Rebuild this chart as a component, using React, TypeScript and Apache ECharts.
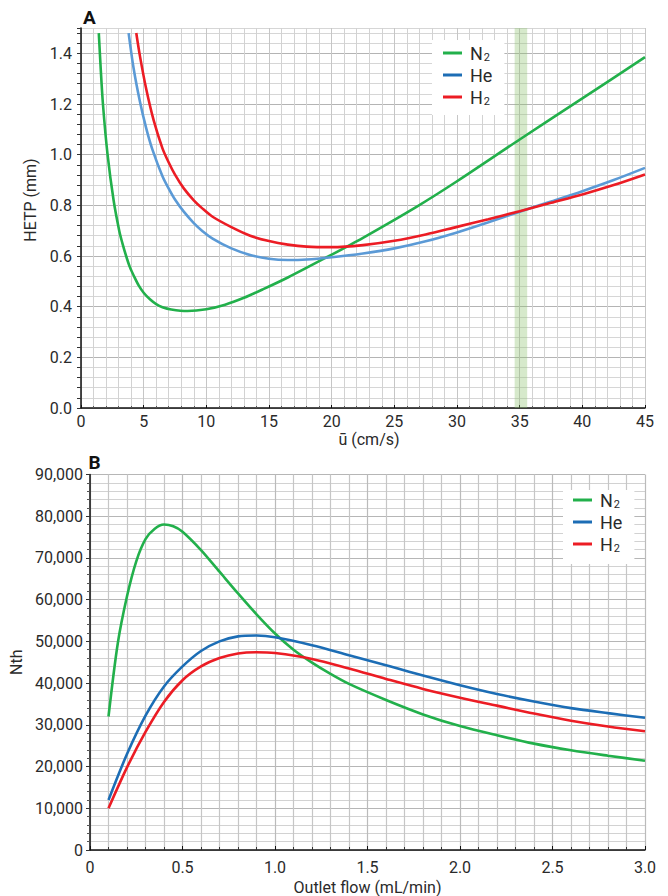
import React, { useEffect, useRef } from "react";
import * as echarts from "echarts";

// ---- Panel A: HETP (mm) against average linear velocity ū (cm/s) ----
const n2Velocity = [1.42, 1.55, 1.75, 2.12, 2.6, 3.05, 3.3, 3.6, 3.9, 4.25, 4.6, 5.0, 5.5, 6.0, 6.5, 7.2, 8.5, 10, 11.5, 13, 14.5, 16.5, 19.6, 22.5, 26.8, 30, 35, 40, 45];
const n2Hetp = [1.48, 1.36, 1.2, 1.0, 0.82, 0.7, 0.651, 0.6, 0.556, 0.518, 0.484, 0.455, 0.429, 0.41, 0.398, 0.389, 0.383, 0.39, 0.408, 0.435, 0.468, 0.515, 0.595, 0.672, 0.795, 0.895, 1.06, 1.222, 1.385];

const heVelocity = [3.8, 4.2, 4.7, 5.2, 5.7, 6.5, 7.0, 7.5, 8.2, 9, 9.7, 10.5, 12, 13.5, 15, 16.5, 18, 20, 22.5, 25, 27.5, 30, 32.5, 35, 37.5, 40, 42.5, 45];
const heHetp = [1.48, 1.34, 1.21, 1.105, 1.02, 0.915, 0.866, 0.823, 0.775, 0.73, 0.698, 0.669, 0.63, 0.604, 0.589, 0.584, 0.586, 0.595, 0.61, 0.63, 0.658, 0.693, 0.733, 0.775, 0.815, 0.856, 0.9, 0.948];

const h2Velocity = [4.41, 4.7, 5.2, 5.8, 6.5, 7.0, 7.5, 8.2, 9, 9.7, 10.5, 12, 13.5, 15, 16.5, 18, 20, 22.5, 25, 27.5, 30, 32.5, 35, 37.5, 40, 42.5, 45];
const h2Hetp = [1.48, 1.39, 1.26, 1.135, 1.025, 0.969, 0.921, 0.867, 0.82, 0.787, 0.755, 0.714, 0.68, 0.659, 0.645, 0.637, 0.635, 0.643, 0.66, 0.685, 0.715, 0.745, 0.777, 0.81, 0.843, 0.88, 0.922];

// shaded velocity window
const bandVelocity = [34.6, 35.6];

// ---- Panel B: plate number Nth against outlet flow (mL/min) ----
const n2Flow = [0.1, 0.15, 0.2, 0.25, 0.3, 0.35, 0.4, 0.45, 0.5, 0.6, 0.7, 0.8, 0.9, 1.0, 1.1, 1.2, 1.3, 1.4, 1.6, 1.8, 2.0, 2.2, 2.4, 2.6, 2.8, 3.0];
const n2Plates = [32000, 49500, 60800, 69200, 74500, 77000, 78000, 77600, 76300, 71900, 66700, 61500, 56500, 51900, 48000, 44900, 42200, 39800, 35950, 32500, 29700, 27500, 25500, 23900, 22600, 21400];

const heFlow = [0.1, 0.2, 0.3, 0.4, 0.5, 0.6, 0.7, 0.8, 0.9, 1.0, 1.2, 1.4, 1.6, 1.8, 2.0, 2.2, 2.4, 2.6, 2.8, 3.0];
const hePlates = [12000, 23000, 32200, 39200, 44000, 47700, 50000, 51200, 51400, 51000, 49100, 46700, 44300, 41800, 39500, 37400, 35600, 34000, 32800, 31700];

const h2Flow = [0.1, 0.2, 0.3, 0.4, 0.5, 0.6, 0.7, 0.8, 0.9, 1.0, 1.2, 1.4, 1.6, 1.8, 2.0, 2.2, 2.4, 2.6, 2.8, 3.0];
const h2Plates = [10000, 19800, 28300, 35500, 40700, 44000, 46000, 47100, 47400, 47200, 45800, 43500, 41000, 38600, 36500, 34600, 32700, 31000, 29600, 28450];

const gasNames = ["N2", "He", "H2"];

const GREEN = "#22b04b";
const BLUE = "#1c6db5";
const LIGHT_BLUE = "#5b9ad6";
const RED = "#ec1c24";
const FONT = "Roboto, 'Liberation Sans', Arial, sans-serif";
const TEXT = "#2a2a2a";

const pairs = (xs: number[], ys: number[]) => xs.map((x, i) => [x, ys[i]]);

const line = (name: string, color: string, data: number[][], axis: number, extra: any = {}) => ({
  type: "line",
  name,
  xAxisIndex: axis,
  yAxisIndex: axis,
  data,
  showSymbol: false,
  smooth: 0.3,
  lineStyle: { color, width: 2.6 },
  itemStyle: { color },
  z: 3,
  ...extra,
});

const legendFor = (left: number, top: number, padding: number[]) => ({
  orient: "vertical",
  left,
  top,
  padding,
  itemGap: 2,
  itemWidth: 19,
  itemHeight: 3,
  icon: "rect",
  backgroundColor: "#ffffff",
  selectedMode: false,
  data: [
    { name: gasNames[0], itemStyle: { color: GREEN } },
    { name: gasNames[1], itemStyle: { color: BLUE } },
    { name: gasNames[2], itemStyle: { color: RED } },
  ],
  formatter: (name: string) =>
    name.endsWith("2") ? `${name.slice(0, -1)}{sub|2}` : name,
  textStyle: {
    fontFamily: FONT,
    fontSize: 18,
    color: TEXT,
    lineHeight: 20,
    padding: [0, 0, 0, 3],
    rich: {
      sub: { fontFamily: FONT, fontSize: 11, color: TEXT, lineHeight: 20, padding: [9, 0, 0, 1] },
    },
  },
});

const isMultiple = (v: number, step: number) => Math.abs(v / step - Math.round(v / step)) < 1e-6;

export default function App() {
  const ref = useRef<HTMLDivElement>(null);

  useEffect(() => {
    if (!ref.current) return;
    const chart = echarts.init(ref.current, undefined, { renderer: "svg" });

    const tickLabel = { fontFamily: FONT, fontSize: 16, color: TEXT };
    const axisName = { fontFamily: FONT, fontSize: 16, color: TEXT };

    chart.setOption({
      animation: false,
      backgroundColor: "#ffffff",
      grid: [
        { left: 81, top: 28, width: 564, height: 380 },
        { left: 84, top: 474.5, width: 561, height: 377.5 },
      ],
      xAxis: [
        {
          gridIndex: 0,
          type: "value",
          min: 0,
          max: 45,
          interval: 5,
          name: "ū (cm/s)",
          nameLocation: "middle",
          nameGap: 23,
          nameTextStyle: { ...axisName, padding: [0, 0, 0, 12] },
          axisLine: { lineStyle: { color: "#111", width: 1.5 } },
          axisTick: { inside: true, length: 3, lineStyle: { color: "#111" } },
          minorTick: { show: true, splitNumber: 5, length: 2, lineStyle: { color: "#555" } },
          axisLabel: { ...tickLabel, margin: 5 },
          splitLine: { show: true, lineStyle: { color: "#c6c6c6", width: 1 } },
          minorSplitLine: { show: true, lineStyle: { color: "#d2d2d2", width: 1 } },
        },
        {
          gridIndex: 1,
          type: "value",
          min: 0,
          max: 3,
          interval: 0.5,
          name: "Outlet flow (mL/min)",
          nameLocation: "middle",
          nameGap: 29,
          nameTextStyle: axisName,
          axisLine: { lineStyle: { color: "#111", width: 1.5 } },
          axisTick: { inside: true, length: 4, lineStyle: { color: "#111" } },
          minorTick: { show: true, splitNumber: 5, length: 3, lineStyle: { color: "#333" } },
          axisLabel: {
            ...tickLabel,
            margin: 9,
            formatter: (v: number) => (v === 0 ? "0" : v.toFixed(1)),
          },
          splitLine: { show: true, lineStyle: { color: "#bbbbbb", width: 1.2 } },
          minorSplitLine: { show: true, lineStyle: { color: "#c6c6c6", width: 1.2 } },
        },
      ],
      yAxis: [
        {
          gridIndex: 0,
          type: "value",
          min: 0,
          max: 1.5,
          interval: 0.04,
          name: "HETP (mm)",
          nameLocation: "middle",
          nameGap: 36,
          nameTextStyle: { ...axisName, padding: [0, 0, 0, 36] },
          axisLine: { show: true, lineStyle: { color: "#111", width: 1.5 } },
          axisTick: { show: true, interval: 0, length: 4, lineStyle: { color: "#333" } },
          axisLabel: {
            ...tickLabel,
            interval: 0,
            margin: 9,
            formatter: (v: number) => (isMultiple(v, 0.2) ? v.toFixed(1) : ""),
          },
          splitLine: {
            show: true,
            interval: 0,
            lineStyle: { color: ["#b4b4b4", "#d6d6d6", "#d6d6d6", "#d6d6d6", "#d6d6d6"], width: 1 },
          },
        },
        {
          gridIndex: 1,
          type: "value",
          min: 0,
          max: 90000,
          interval: 10000,
          name: "Nth",
          nameLocation: "middle",
          nameGap: 58,
          nameTextStyle: axisName,
          axisLine: { show: true, lineStyle: { color: "#111", width: 1.5 } },
          axisTick: { show: true, length: 4, lineStyle: { color: "#333" } },
          minorTick: { show: true, splitNumber: 5, length: 3, lineStyle: { color: "#555" } },
          axisLabel: {
            ...tickLabel,
            margin: 7,
            formatter: (v: number) => (v === 0 ? "0" : v.toLocaleString("en-US")),
          },
          splitLine: { show: true, lineStyle: { color: "#b6b6b6", width: 1.2 } },
          minorSplitLine: { show: true, lineStyle: { color: "#d2d2d2", width: 1.2 } },
        },
      ],
      legend: [legendFor(432, 40, [3, 12, 8, 11]), legendFor(563, 490, [0, 12, 10, 10])],
      graphic: [
        {
          type: "text",
          x: 83,
          y: 17,
          style: { text: "A", font: `bold 19px ${FONT}`, fill: "#111", verticalAlign: "middle" },
        },
        {
          type: "text",
          x: 88.5,
          y: 462,
          style: { text: "B", font: `bold 19px ${FONT}`, fill: "#111", verticalAlign: "middle" },
        },
      ],
      series: [
        line(gasNames[0], GREEN, pairs(n2Velocity, n2Hetp), 0, {
          markArea: {
            silent: true,
            itemStyle: { color: "rgba(140,195,110,0.36)" },
            data: [[{ xAxis: bandVelocity[0] }, { xAxis: bandVelocity[1] }]],
          },
        }),
        line(gasNames[1], LIGHT_BLUE, pairs(heVelocity, heHetp), 0),
        line(gasNames[2], RED, pairs(h2Velocity, h2Hetp), 0),
        line(gasNames[0], GREEN, pairs(n2Flow, n2Plates), 1),
        line(gasNames[1], BLUE, pairs(heFlow, hePlates), 1),
        line(gasNames[2], RED, pairs(h2Flow, h2Plates), 1),
      ],
    });

    return () => chart.dispose();
  }, []);

  return (
    <div
      ref={ref}
      style={{ position: "fixed", left: 0, top: 0, width: 668, height: 896, background: "#fff" }}
    />
  );
}
